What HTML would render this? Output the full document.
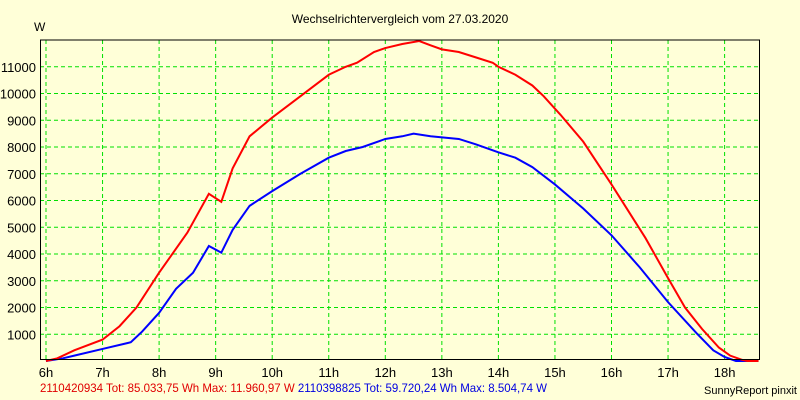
<!DOCTYPE html>
<html><head><meta charset="utf-8"><style>
body{margin:0;background:#ffffd8;}
svg{display:block;font-family:"Liberation Sans",sans-serif;}
</style></head><body>
<svg width="800" height="400">
<rect width="800" height="400" fill="#ffffd8"/>
<text x="400" y="23" text-anchor="middle" font-size="12">Wechselrichtervergleich vom 27.03.2020</text>
<text x="34" y="31" font-size="12">W</text>
<g id="grid"></g>
<g id="series"></g>
<line x1="40" y1="40" x2="760" y2="40" stroke="#000"/>
<line x1="40.5" y1="40" x2="40.5" y2="360" stroke="#000"/>
<line x1="759.5" y1="40" x2="759.5" y2="360" stroke="#000"/>
<line x1="40" y1="359.5" x2="760" y2="359.5" stroke="#000"/>
<g id="labels"></g>
<text x="40" y="392" font-size="12" textLength="507" lengthAdjust="spacingAndGlyphs"><tspan fill="#e00000">2110420934 Tot: 85.033,75 Wh Max: 11.960,97 W</tspan><tspan fill="#0000e0"> 2110398825 Tot: 59.720,24 Wh Max: 8.504,74 W</tspan></text>
<text x="797" y="394" text-anchor="end" font-size="11">SunnyReport pinxit</text>
</svg>
<script>
const hourTicks=[6,7,8,9,10,11,12,13,14,15,16,17,18];
const yTicks=[1000,2000,3000,4000,5000,6000,7000,8000,9000,10000,11000];
const redTimes=[6,6.2,6.5,7,7.3,7.6,8,8.5,8.88,9.1,9.3,9.6,10,10.5,11,11.3,11.5,11.8,12,12.3,12.6,12.8,13,13.3,13.6,13.9,14,14.3,14.6,14.8,15.1,15.5,16,16.3,16.6,17,17.3,17.6,17.9,18.1,18.3,18.4,18.6];
const redValues=[0,100,400,800,1300,2000,3300,4800,6250,5950,7200,8400,9100,9900,10700,11000,11150,11550,11700,11850,11960,11800,11650,11550,11350,11150,11000,10700,10300,9900,9200,8200,6600,5600,4600,3100,2000,1200,500,200,50,0,0];
const blueTimes=[6,6.3,6.5,7,7.5,7.7,8,8.3,8.6,8.88,9.1,9.3,9.6,10,10.5,11,11.3,11.6,12,12.3,12.5,12.8,13.3,13.6,14,14.3,14.6,15,15.5,16,16.5,17,17.5,17.8,18,18.2,18.6];
const blueValues=[0,100,200,450,700,1100,1800,2700,3300,4300,4050,4900,5800,6350,7000,7600,7850,8000,8300,8400,8500,8400,8300,8100,7800,7600,7250,6600,5700,4700,3500,2200,1050,400,150,0,0];
const NS="http://www.w3.org/2000/svg";
function xS(h){return 46+(h-6)*56.55;}
function yS(v){return 361-v*0.02675;}
const grid=document.getElementById('grid'),labels=document.getElementById('labels'),series=document.getElementById('series');
function mk(tag,attrs,parent){const e=document.createElementNS(NS,tag);for(const k in attrs)e.setAttribute(k,attrs[k]);parent.appendChild(e);return e;}
hourTicks.forEach(h=>{
  const l=mk('line',{x1:xS(h),x2:xS(h),y1:40,y2:360,stroke:'#00e000','stroke-dasharray':'4,3'},grid);
  
  
  const t=mk('text',{x:xS(h),y:377,'text-anchor':'middle','font-size':'13'},labels);
  t.textContent=h+'h';
  
  
});
yTicks.forEach(v=>{
  const l=mk('line',{x1:40,x2:760,y1:yS(v),y2:yS(v),stroke:'#00e000','stroke-dasharray':'4,3'},grid);
  
  
  const t=mk('text',{x:36,y:yS(v)+5,'text-anchor':'end','font-size':'13'},labels);
  t.textContent=v;
  
  
});
function line(ts,vs,col,name){
  const p=mk('polyline',{points:ts.map((t,i)=>xS(t)+','+yS(vs[i])).join(' '),fill:'none',stroke:col,'stroke-width':2},series);
  
  
}
line(blueTimes,blueValues,'#0000ff','series-2110398825');
line(redTimes,redValues,'#ff0000','series-2110420934');
</script>
</body></html>
